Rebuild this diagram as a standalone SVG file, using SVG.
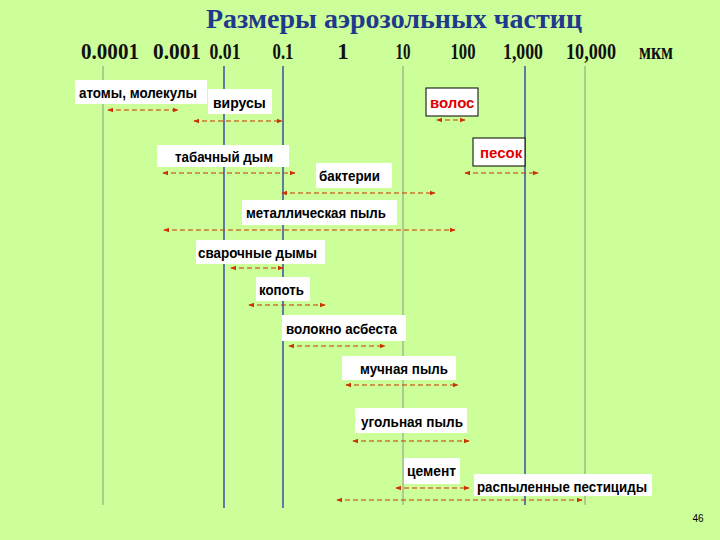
<svg xmlns="http://www.w3.org/2000/svg" width="720" height="540" viewBox="0 0 720 540">
<defs>
<style>
.ax{font-family:"Liberation Serif",serif;font-weight:bold;font-size:23px;text-anchor:middle;fill:#111}
.lb{font-family:"Liberation Sans",Arial,sans-serif;font-size:14px;font-weight:bold;fill:#000}
.red{font-family:"Liberation Sans",Arial,sans-serif;font-size:15px;font-weight:bold;fill:#e00000}
.box{fill:#fff}
.gl{stroke:#8a9a8a;stroke-width:1}
.bl{stroke:#2233aa;stroke-width:1.3}
.ar{stroke:#cc3300;stroke-width:1.2;stroke-dasharray:5,3;fill:none;marker-start:url(#ms);marker-end:url(#me)}
</style>
<marker id="me" viewBox="0 0 8 8" refX="7" refY="4" markerWidth="6" markerHeight="6" orient="auto" markerUnits="userSpaceOnUse"><path d="M0,1 L8,4 L0,7 z" fill="#cc3300"/></marker>
<marker id="ms" viewBox="0 0 8 8" refX="1" refY="4" markerWidth="6" markerHeight="6" orient="auto" markerUnits="userSpaceOnUse"><path d="M8,1 L0,4 L8,7 z" fill="#cc3300"/></marker>
</defs>
<rect width="720" height="540" fill="#ccff99"/>
<text x="394" y="28" font-family="Liberation Serif,serif" font-weight="bold" font-size="28" fill="#1f3a8c" text-anchor="middle">Размеры аэрозольных частиц</text>
<g id="axis">
<text class="ax" x="110" y="59" textLength="58" lengthAdjust="spacingAndGlyphs">0.0001</text><text class="ax" x="177" y="59" textLength="48" lengthAdjust="spacingAndGlyphs">0.001</text><text class="ax" x="225" y="59" textLength="31" lengthAdjust="spacingAndGlyphs">0.01</text><text class="ax" x="283" y="59" textLength="21" lengthAdjust="spacingAndGlyphs">0.1</text><text class="ax" x="343" y="59">1</text><text class="ax" x="403" y="59" textLength="15" lengthAdjust="spacingAndGlyphs">10</text><text class="ax" x="463" y="59" textLength="25" lengthAdjust="spacingAndGlyphs">100</text><text class="ax" x="523" y="59" textLength="40" lengthAdjust="spacingAndGlyphs">1,000</text><text class="ax" x="591" y="59" textLength="50" lengthAdjust="spacingAndGlyphs">10,000</text><text class="ax" x="656" y="59" font-size="19" textLength="34" lengthAdjust="spacingAndGlyphs">мкм</text>
<line class="gl" x1="103" y1="66" x2="103" y2="505"/>
<line class="bl" x1="224" y1="66" x2="224" y2="508"/>
<line class="bl" x1="283" y1="66" x2="283" y2="508"/>
<line class="gl" x1="403" y1="66" x2="403" y2="505"/>
<line class="bl" x1="525" y1="66" x2="525" y2="505"/>
<line class="gl" x1="585" y1="66" x2="585" y2="505"/>
</g>
<g id="n1"><rect class="box" x="75" y="80" width="132" height="24"/><text class="lb" x="79" y="98" textLength="118" lengthAdjust="spacingAndGlyphs">атомы, молекулы</text></g>
<g id="n2"><rect class="box" x="208" y="89" width="64" height="25"/><text class="lb" x="213" y="108">вирусы</text></g>
<g id="n3"><rect class="box" x="426" y="88" width="52" height="28" stroke="#000"/><text class="red" x="430" y="108">волос</text></g>
<g id="n4"><rect class="box" x="157" y="145" width="132" height="22"/><text class="lb" x="175" y="162" textLength="98" lengthAdjust="spacingAndGlyphs">табачный дым</text></g>
<g id="n5"><rect class="box" x="473" y="138" width="52" height="28" stroke="#000"/><text class="red" x="480" y="158">песок</text></g>
<g id="n6"><rect class="box" x="316" y="163" width="76" height="25"/><text class="lb" x="319" y="181" textLength="61" lengthAdjust="spacingAndGlyphs">бактерии</text></g>
<g id="n7"><rect class="box" x="242" y="200" width="155" height="25"/><text class="lb" x="246" y="218" textLength="140" lengthAdjust="spacingAndGlyphs">металлическая пыль</text></g>
<g id="n8"><rect class="box" x="196" y="240" width="129" height="24"/><text class="lb" x="198" y="258" textLength="119" lengthAdjust="spacingAndGlyphs">сварочные дымы</text></g>
<g id="n9"><rect class="box" x="256" y="277" width="54" height="24"/><text class="lb" x="259" y="295" textLength="45" lengthAdjust="spacingAndGlyphs">копоть</text></g>
<g id="n10"><rect class="box" x="282" y="315" width="124" height="26"/><text class="lb" x="286" y="334" textLength="111" lengthAdjust="spacingAndGlyphs">волокно асбеста</text></g>
<g id="n11"><rect class="box" x="342" y="356" width="114" height="24"/><text class="lb" x="360" y="374" textLength="88" lengthAdjust="spacingAndGlyphs">мучная пыль</text></g>
<g id="n12"><rect class="box" x="355" y="408" width="112" height="25"/><text class="lb" x="361" y="427" textLength="102" lengthAdjust="spacingAndGlyphs">угольная пыль</text></g>
<g id="n13"><rect class="box" x="404" y="458" width="56" height="26"/><text class="lb" x="407" y="476" textLength="49" lengthAdjust="spacingAndGlyphs">цемент</text></g>
<g id="n14"><rect class="box" x="474" y="474" width="178" height="22"/><text class="lb" x="477" y="492" textLength="170" lengthAdjust="spacingAndGlyphs">распыленные пестициды</text></g>
<g id="connectors">
<line class="ar" x1="108" y1="110" x2="178" y2="110"/>
<line class="ar" x1="194" y1="121" x2="282" y2="121"/>
<line class="ar" x1="437" y1="120" x2="465" y2="120"/>
<line class="ar" x1="163" y1="173" x2="295" y2="173"/>
<line class="ar" x1="465" y1="173" x2="538" y2="173"/>
<line class="ar" x1="282" y1="193" x2="435" y2="193"/>
<line class="ar" x1="164" y1="230" x2="455" y2="230"/>
<line class="ar" x1="231" y1="268" x2="283" y2="268"/>
<line class="ar" x1="249" y1="305" x2="325" y2="305"/>
<line class="ar" x1="289" y1="346" x2="385" y2="346"/>
<line class="ar" x1="346" y1="385" x2="458" y2="385"/>
<line class="ar" x1="353" y1="441" x2="469" y2="441"/>
<line class="ar" x1="396" y1="488" x2="469" y2="488"/>
<line class="ar" x1="337" y1="500" x2="582" y2="500"/>
</g>
<text x="698" y="522" font-family="Liberation Sans,sans-serif" font-size="10" text-anchor="middle" fill="#000">46</text>
</svg>
